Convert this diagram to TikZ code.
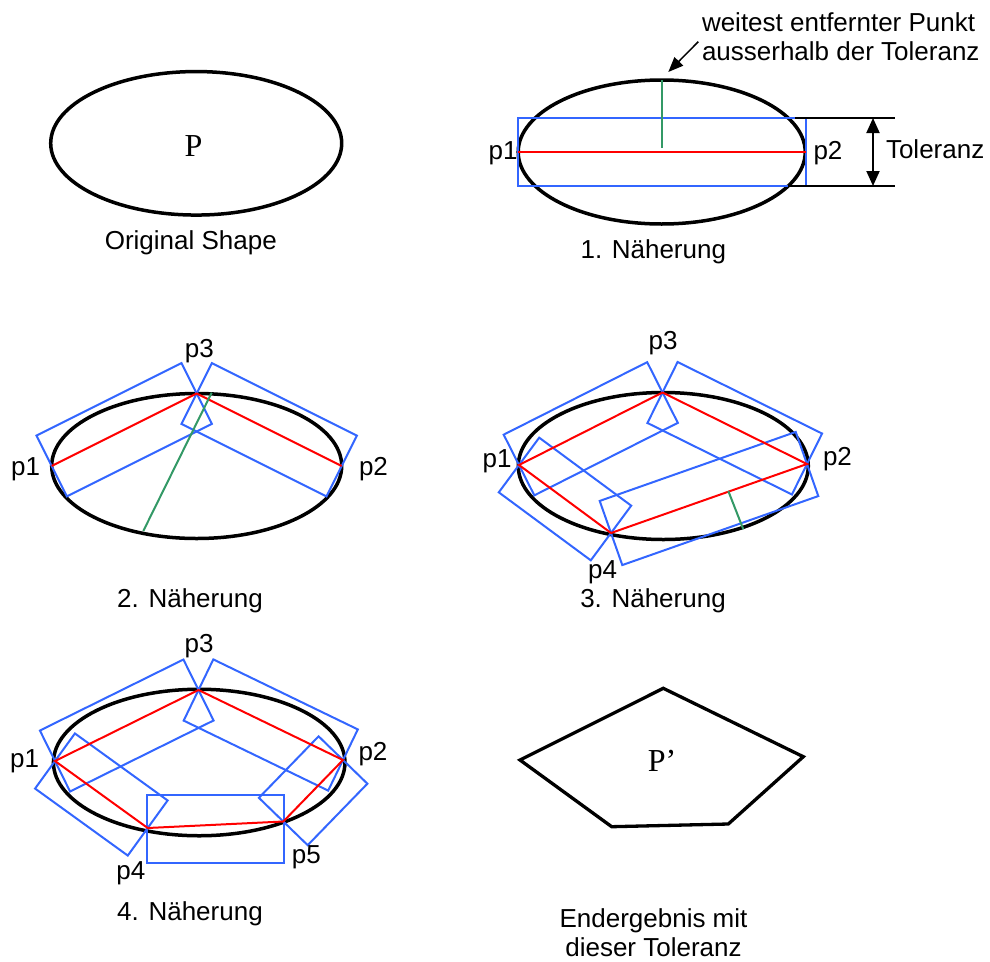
\documentclass[tikz,border=0pt]{standalone}
\usepackage{fontspec}
\setmainfont{Liberation Sans}
\newfontfamily\seriffont{Liberation Serif}
\usetikzlibrary{calc,shapes.geometric,arrows.meta}
\definecolor{tolblue}{RGB}{51,102,255}
\definecolor{tolred}{RGB}{255,0,0}
\definecolor{tolgreen}{RGB}{51,153,102}
\newcommand{\tolrect}[2]{\draw[bluebox] ($(#1)!34pt!90:(#2)$) -- ($(#1)!34pt!-90:(#2)$) -- ($(#2)!34pt!90:(#1)$) -- ($(#2)!34pt!-90:(#1)$) -- cycle;}
\begin{document}
\begin{tikzpicture}[x=1pt,y=-1pt,
  outline/.style={draw, ellipse, line width=3.5pt, inner sep=0pt, outer sep=0pt},
  bluebox/.style={draw=tolblue, line width=2pt},
  redline/.style={draw=tolred, line width=2pt},
  greenline/.style={draw=tolgreen, line width=2pt},
  thinblack/.style={draw=black, line width=1.5pt},
  lbl/.style={inner sep=0pt, outer sep=0pt, font=\fontsize{26}{30}\selectfont},
  bigp/.style={inner sep=0pt, outer sep=0pt, font=\seriffont\fontsize{32}{36}\selectfont},
]
\useasboundingbox (0,0) rectangle (990,961);

% ---------- Original shape ----------
\node[outline, minimum width=291pt, minimum height=143.5pt] (e0) at (196.2,143.3) {};
\node[bigp, anchor=base] (P) at (193.5,156.7) {P};
\node[lbl, anchor=base] (cap0) at (190.8,249) {Original Shape};

% ---------- 1. Naeherung ----------
\node[outline, minimum width=287pt, minimum height=144pt] (e1) at (661.7,152) {};
\coordinate (a1p1) at (518,152);
\coordinate (a1p2) at (806,152);
\tolrect{a1p1}{a1p2}
\draw[redline] (a1p1) -- (a1p2);
\coordinate (a1top) at (661.7,80);
\coordinate (a1foot) at (661.7,148);
\draw[greenline] (a1top) -- (a1foot);
\coordinate (tolA1) at (795,118);
\coordinate (tolA2) at (895,118);
\coordinate (tolB1) at (788,186);
\coordinate (tolB2) at (895,186);
\draw[thinblack] (tolA1) -- (tolA2);
\draw[thinblack] (tolB1) -- (tolB2);
\coordinate (tolT) at (873,118);
\coordinate (tolB) at (873,186);
\draw[line width=2pt, {Triangle[width=13pt,length=15pt]}-{Triangle[width=13pt,length=15pt]}] (tolT) -- (tolB);
\coordinate (arrS) at (698.3,41.7);
\coordinate (arrE) at (668.3,72);
\draw[line width=1.5pt, -{Triangle[width=12pt,length=15pt]}] (arrS) -- (arrE);
\node[lbl, anchor=base west] (w1) at (702,31) {weitest entfernter Punkt};
\node[lbl, anchor=base west] (w2) at (702,60.5) {ausserhalb der Toleranz};
\node[lbl, anchor=base west] (tol) at (886,158.5) {Toleranz};
\node[lbl, anchor=base east] (l1p1) at (517.5,159) {p1};
\node[lbl, anchor=base west] (l1p2) at (813.5,159) {p2};
\node[lbl, anchor=base] (cap1) at (653.3,258) {1. Näherung};

% ---------- 2. Naeherung ----------
\node[outline, minimum width=290pt, minimum height=145pt] (e2) at (196.7,466) {};
\coordinate (b1) at (51.7,466);
\coordinate (b3) at (196.7,393.5);
\coordinate (b2) at (341.7,466);
\tolrect{b1}{b3}
\tolrect{b3}{b2}
\draw[redline] (b1) -- (b3) -- (b2);
\coordinate (g2a) at (211.7,392.7);
\coordinate (g2b) at (143.3,531);
\draw[greenline] (g2a) -- (g2b);
\node[lbl, anchor=base east] (l2p1) at (40,475) {p1};
\node[lbl, anchor=base west] (l2p2) at (359,475) {p2};
\node[lbl, anchor=base] (l2p3) at (199.3,357.3) {p3};
\node[lbl, anchor=base] (cap2) at (190,607.3) {2. Näherung};

% ---------- 3. Naeherung ----------
\node[outline, minimum width=290pt, minimum height=147pt] (e3) at (663.3,466) {};
\coordinate (c1) at (519,465);
\coordinate (c3) at (662.5,392.5);
\coordinate (c2) at (807,464);
\coordinate (c4) at (611,533);
\tolrect{c1}{c3}
\tolrect{c3}{c2}
\tolrect{c1}{c4}
\tolrect{c4}{c2}
\draw[redline] (c1) -- (c3) -- (c2) -- (c4) -- cycle;
\coordinate (g3a) at (728.3,491);
\coordinate (g3b) at (743.3,529.3);
\draw[greenline] (g3a) -- (g3b);
\node[lbl, anchor=base east] (l3p1) at (511.5,467) {p1};
\node[lbl, anchor=base west] (l3p2) at (823,465) {p2};
\node[lbl, anchor=base] (l3p3) at (663,349.3) {p3};
\node[lbl, anchor=base] (l3p4) at (602.7,578.3) {p4};
\node[lbl, anchor=base] (cap3) at (653,607) {3. Näherung};

% ---------- 4. Naeherung ----------
\node[outline, minimum width=291.5pt, minimum height=146.5pt] (e4) at (199.2,762.5) {};
\coordinate (d1) at (55,761);
\coordinate (d3) at (198.5,690);
\coordinate (d2) at (343,760);
\coordinate (d4) at (147.7,828);
\coordinate (d5) at (283.3,821.5);
\tolrect{d1}{d3}
\tolrect{d3}{d2}
\tolrect{d1}{d4}
\tolrect{d5}{d2}
\coordinate (r45a) at (146.7,795);
\coordinate (r45b) at (284.3,863);
\draw[bluebox] (r45a) rectangle (r45b);
\draw[redline] (d1) -- (d3) -- (d2) -- (d5) -- (d4) -- cycle;
\node[lbl, anchor=base east] (l4p1) at (39,767) {p1};
\node[lbl, anchor=base west] (l4p2) at (358.5,760) {p2};
\node[lbl, anchor=base] (l4p3) at (199.2,652.7) {p3};
\node[lbl, anchor=base] (l4p4) at (130.8,879.3) {p4};
\node[lbl, anchor=base] (l4p5) at (306.3,863.3) {p5};
\node[lbl, anchor=base] (cap4) at (190,920) {4. Näherung};

% ---------- Endergebnis ----------
\coordinate (q1) at (520,760);
\coordinate (q2) at (663.3,688.3);
\coordinate (q3) at (803.3,756.7);
\coordinate (q4) at (728.3,824);
\coordinate (q5) at (611.7,826.7);
\draw[line width=3.3pt] (q1) -- (q2) -- (q3) -- (q4) -- (q5) -- cycle;
\node[bigp, anchor=base] (Pp) at (662,771.7) {P’};
\node[lbl, anchor=base] (cap5a) at (653.5,927.5) {Endergebnis mit};
\node[lbl, anchor=base] (cap5b) at (653.5,956) {dieser Toleranz};
\end{tikzpicture}
\end{document}
